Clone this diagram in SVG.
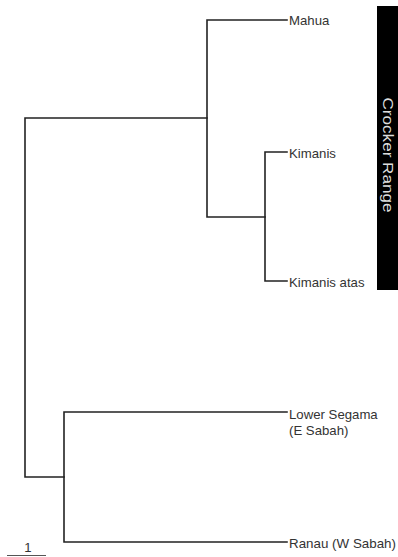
<svg xmlns="http://www.w3.org/2000/svg" width="398" height="557" viewBox="0 0 398 557">
<style>
.e{fill:none;stroke:#222;stroke-width:1.6;stroke-linecap:square}
.l{font-family:"Liberation Sans",Arial,sans-serif;font-size:13.2px;fill:#333}
</style>
<rect width="398" height="557" fill="#fff"/>
<g id="connectors">
<path class="e" d="M25,118V477M25,118H207M25,477H64"/>
<path class="e" d="M207,20V217M207,20H287M207,217H265"/>
<path class="e" d="M265,152V281M265,152H287M265,281H287"/>
<path class="e" d="M64,412V542M64,412H287M64,542H287"/>
</g>
<g id="n-mahua"><text class="l" x="289" y="25">Mahua</text></g>
<g id="n-kimanis"><text class="l" x="289" y="158">Kimanis</text></g>
<g id="n-kimanis-atas"><text class="l" x="289" y="287">Kimanis atas</text></g>
<g id="n-lower-segama"><text class="l" x="289" y="419">Lower Segama</text><text class="l" x="289" y="435">(E Sabah)</text></g>
<g id="n-ranau"><text class="l" x="289" y="548" textLength="107" lengthAdjust="spacingAndGlyphs">Ranau (W Sabah)</text></g>
<g id="crocker-range">
<rect x="377" y="6" width="21" height="284" fill="#000"/>
<text x="0" y="0" transform="translate(383,155) rotate(90)" text-anchor="middle" font-family="'Liberation Sans',Arial,sans-serif" font-size="15" fill="#ddd" textLength="115" lengthAdjust="spacingAndGlyphs">Crocker  Range</text>
</g>
<g id="scale">
<text class="l" x="28" y="552" text-anchor="middle">1</text>
<path d="M7,555.5H46" stroke="#555" stroke-width="1"/>
</g>
</svg>
